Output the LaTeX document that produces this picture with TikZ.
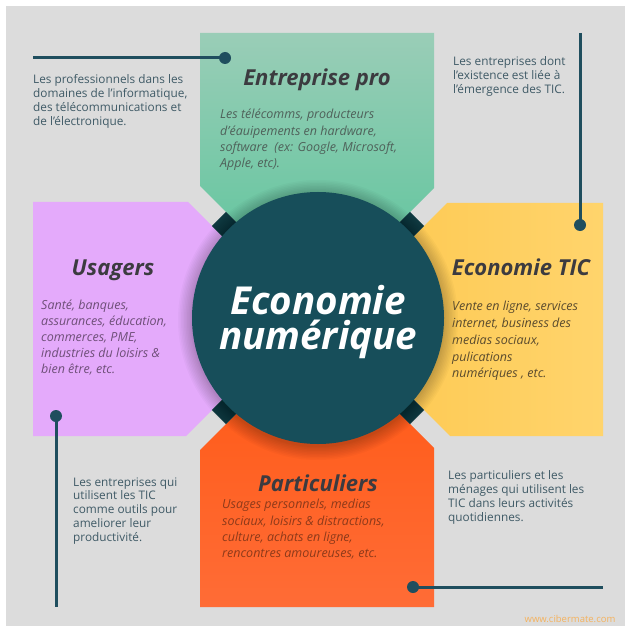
\documentclass[tikz,border=0pt]{standalone}
\usepackage{fontspec}
\setmainfont{Open Sans}
\definecolor{bg}{HTML}{DCDCDC}
\definecolor{gtop}{HTML}{9ACDB7}
\definecolor{gbot}{HTML}{56C499}
\definecolor{purp}{HTML}{E4AAFB}
\definecolor{yleft}{HTML}{FDC74D}
\definecolor{yright}{HTML}{FFD46C}
\definecolor{otop}{HTML}{FF5712}
\definecolor{obot}{HTML}{FF6C36}
\definecolor{circ}{HTML}{174E5A}
\definecolor{tabc}{HTML}{0F3940}
\definecolor{linec}{HTML}{1F4E5E}
\definecolor{outc}{HTML}{3F5A66}
\definecolor{ttlc}{HTML}{3C3B40}
\definecolor{gtxt}{HTML}{4F615A}
\definecolor{ptxt}{HTML}{6E4F78}
\definecolor{ytxt}{HTML}{5A4B2E}
\definecolor{otxt}{HTML}{8E3A1A}
\definecolor{wm}{HTML}{F4B25E}
\tikzset{
  outtxt/.style={anchor=north west, inner sep=0pt, align=left, text=outc, font=\fontsize{11.8}{14}\selectfont},
  ttl/.style={anchor=base, inner sep=0pt, text=ttlc, font=\fontsize{22}{26}\selectfont\bfseries\itshape},
  body/.style={anchor=north west, inner sep=0pt, align=left, font=\fontsize{12.5}{16.3}\selectfont\itshape},
  enddot/.style={circle, fill=linec, minimum size=12pt, inner sep=0pt},
  conn/.style={draw=linec, line width=3pt},
  tabsq/.style={fill=tabc, minimum size=20pt, inner sep=0pt, rotate=45},
  shad/.style={circle, fill=black, inner sep=0pt, opacity=0.025}
}
\begin{document}
\begin{tikzpicture}[x=1pt,y=-1pt]
\useasboundingbox (0,0) rectangle (625,628);
\fill[white] (0,0) rectangle (625,628);
\fill[bg] (6,6) rectangle (625,626);
% pentagons
\shade[top color=gtop, bottom color=gbot] (200,33) -- (434,33) -- (434,188) -- (318,304) -- (200,186) -- cycle;
\fill[purp] (33,202) -- (188,202) -- (304,318) -- (186,436) -- (33,436) -- cycle;
\shade[left color=yleft, right color=yright] (447,203) -- (603,203) -- (603,436) -- (450,436) -- (332,318) -- cycle;
\shade[top color=otop, bottom color=obot] (318,332) -- (434,448) -- (434,607) -- (200,607) -- (200,450) -- cycle;
% tabs
\node[tabsq] (tabnw) at (226,226) {};
\node[tabsq] (tabne) at (410,226) {};
\node[tabsq] (tabsw) at (226,410) {};
\node[tabsq] (tabse) at (410,410) {};
% soft shadow
\foreach \s [count=\k] in {280,277,274,271,268,265,262,259,256,254} {
  \node[shad, minimum size=\s pt] (sh\k) at (318,320) {};
}
% core
\node[circle, fill=circ, minimum size=252pt, inner sep=0pt] (core) at (318,318) {};
\node[inner sep=0pt, align=center, text=white, font=\fontsize{38.5}{35.5}\selectfont\bfseries\itshape] (coretxt) at (318,322) {Economie\\numérique};
% titles
\node[ttl] (t1) at (317,86) {Entreprise pro};
\node[ttl] (t2) at (113,275) {Usagers};
\node[ttl] (t3) at (521,275) {Economie TIC};
\node[ttl] (t4) at (318,491) {Particuliers};
% bodies
\node[body, text=gtxt] (b1) at (220,109) {Les télécomms, producteurs\\d’éauipements en hardware,\\software\ \ (ex: Google, Microsoft,\\Apple, etc).};
\node[body, text=ptxt, font=\fontsize{12.5}{16}\selectfont\itshape] (b2) at (41,300) {Santé, banques,\\assurances, éducation,\\commerces, PME,\\industries du loisirs \&\\bien être, etc.};
\node[body, text=ytxt, font=\fontsize{12.5}{16.8}\selectfont\itshape] (b3) at (452,301) {Vente en ligne, services\\internet, business des\\medias sociaux,\\pulications\\numériques , etc.};
\node[body, text=otxt] (b4) at (222,499) {Usages personnels, medias\\sociaux, loisirs \& distractions,\\culture, achats en ligne,\\rencontres amoureuses, etc.};
% outside texts
\node[outtxt] (o1) at (33,74.2) {Les professionnels dans les\\domaines de l’informatique,\\des télécommunications et\\de l’électronique.};
\node[outtxt] (o2) at (453,56.2) {Les entreprises dont\\l’existence est liée à\\l’émergence des TIC.};
\node[outtxt, font=\fontsize{11.8}{13.75}\selectfont] (o3) at (73,477.2) {Les entreprises qui\\utilisent les TIC\\comme outils pour\\ameliorer leur\\productivité.};
\node[outtxt] (o4) at (448,470.2) {Les particuliers et les\\ménages qui utilisent les\\TIC dans leurs activités\\quotidiennes.};
% connectors
\coordinate (tlA) at (33,58);
\node[enddot] (tlD) at (225,58) {};
\coordinate (trA) at (580,33);
\node[enddot] (trD) at (580,225) {};
\node[enddot] (blD) at (56,416) {};
\coordinate (blA) at (56,607);
\node[enddot] (brD) at (413,587) {};
\coordinate (brA) at (603,587);
\draw[conn] (tlA) -- (tlD.center);
\draw[conn] (trA) -- (trD.center);
\draw[conn] (blD.center) -- (blA);
\draw[conn] (brD.center) -- (brA);
% watermark
\node[inner sep=0pt, text=wm, font=\fontsize{9.5}{10}\selectfont] (wmk) at (570,619) {www.cibermate.com};
\end{tikzpicture}
\end{document}
